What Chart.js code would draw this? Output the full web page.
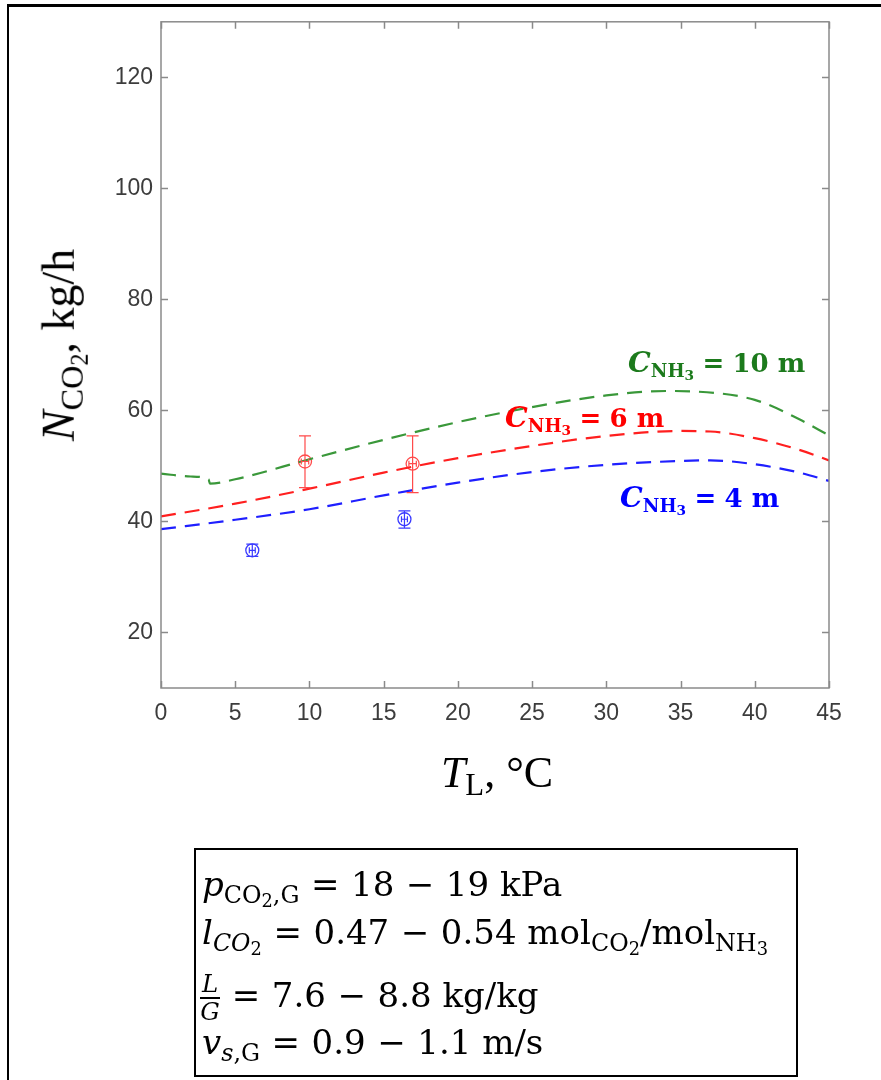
<!DOCTYPE html>
<html><head><meta charset="utf-8">
<script src="https://cdn.jsdelivr.net/npm/chart.js@4.4.1/dist/chart.umd.min.js"></script>
<style>
html,body{margin:0;padding:0;background:#fff;}
#wrap{position:relative;width:881px;height:1080px;overflow:hidden;background:#fff;}
#c{position:absolute;left:0;top:0;}
.t{position:absolute;font-family:"Liberation Serif","DejaVu Serif",serif;white-space:nowrap;line-height:1;color:#000;}
.d{font-family:"DejaVu Serif","Liberation Serif",serif;}
.s{font-size:0.7em;vertical-align:-0.28em;}
.s .s{font-size:0.75em;vertical-align:-0.22em;}
.op{margin:0 0.34em;}
.lab{font-weight:bold;}
.frac{display:inline-block;vertical-align:-0.55em;text-align:center;font-size:0.72em;font-style:italic;line-height:1.08;margin-right:0px;}
.frac .nu{display:block;border-bottom:2px solid #000;padding:0 2px;}
.frac .de{display:block;}
</style>
</head><body>
<div id="wrap">
<canvas id="c" width="881" height="1080"></canvas>

<!-- outer frame -->
<div style="position:absolute;left:7px;top:4px;width:874px;height:3px;background:#000;"></div>
<div style="position:absolute;left:7px;top:4px;width:2px;height:1076px;background:#000;"></div>

<!-- y axis title -->
<div class="t" id="ytitle" style="font-size:46px;left:64px;top:345px;transform:translate(-50%,-50%) rotate(-90deg);"><i>N</i><span class="s">CO<span class="s">2</span></span>, kg/h</div>
<!-- x axis title -->
<div class="t" id="xtitle" style="font-size:44px;left:497px;top:776px;transform:translate(-50%,-50%);"><i>T</i><span class="s">L</span>, °C</div>

<!-- curve labels -->
<div class="t d lab" style="font-size:26px;left:628px;top:348px;color:#1c7a1c;"><i style="font-size:1.1em">C</i><span class="s">NH<span class="s">3</span></span><span class="op" style="margin:0 0.32em">=</span>10 m</div>
<div class="t d lab" style="font-size:26px;left:505px;top:403px;color:#ff0000;"><i style="font-size:1.1em">C</i><span class="s">NH<span class="s">3</span></span><span class="op" style="margin:0 0.32em">=</span>6 m</div>
<div class="t d lab" style="font-size:26px;left:620px;top:483px;color:#0000ff;"><i style="font-size:1.1em">C</i><span class="s">NH<span class="s">3</span></span><span class="op" style="margin:0 0.32em">=</span>4 m</div>

<!-- info box -->
<div style="position:absolute;left:194px;top:848px;width:600px;height:225px;border:2px solid #000;"></div>
<div class="t d" style="font-size:34px;left:202px;top:867px;"><i>p</i><span class="s">CO<span class="s">2</span>,G</span><span class="op">=</span>18<span class="op">−</span>19 kPa</div>
<div class="t d" style="font-size:34px;left:202px;top:915px;"><i>l</i><span class="s"><i>CO</i><span class="s">2</span></span><span class="op">=</span>0.47<span class="op">−</span>0.54 mol<span class="s">CO<span class="s">2</span></span>/mol<span class="s">NH<span class="s">3</span></span></div>
<div class="t d" style="font-size:34px;left:200px;top:971px;"><span class="frac"><span class="nu">L</span><span class="de">G</span></span><span class="op">=</span>7.6<span class="op">−</span>8.8 kg/kg</div>
<div class="t d" style="font-size:34px;left:202px;top:1025px;"><i>v</i><span class="s"><i>s</i>,G</span><span class="op">=</span>0.9<span class="op">−</span>1.1 m/s</div>
</div>

<script>
// ---- data ----
const xTicks = [0, 5, 10, 15, 20, 25, 30, 35, 40, 45];
const yTicks = [20, 40, 60, 80, 100, 120];

// model curves: T_L (°C) vs N_CO2 (kg/h)
const model10mT = [0, 2, 3.2, 3.3, 5, 10, 15, 20, 25, 30, 34, 36, 40, 43, 45];
const model10mN = [48.6, 48.1, 47.6, 46.8, 47.6, 51.2, 54.7, 57.9, 60.6, 62.7, 63.5, 63.4, 61.9, 58.4, 55.5];
const model6mT  = [0, 5, 10, 15, 20, 25, 30, 35, 37, 40, 43, 45];
const model6mN  = [40.9, 43.2, 45.9, 48.8, 51.4, 53.6, 55.4, 56.3, 56.2, 55.0, 52.9, 51.0];
const model4mT  = [0, 5, 10, 15, 20, 25, 30, 35, 37, 40, 43, 45];
const model4mN  = [38.6, 40.3, 42.2, 44.7, 47.0, 48.9, 50.2, 50.9, 51.0, 50.3, 48.8, 47.3];

// experiments
const exp6mT   = [9.7, 16.95];
const exp6mN   = [50.8, 50.4];
const exp6mLo  = [46.1, 45.2];
const exp6mHi  = [55.4, 55.4];
const exp6mTErr = [0.25, 0.25];
const exp4mT   = [6.15, 16.4];
const exp4mN   = [34.8, 40.4];
const exp4mLo  = [33.7, 38.8];
const exp4mHi  = [35.9, 41.9];
const exp4mTErr = [0.2, 0.2];

const toPts = (xs, ys) => xs.map((x, i) => ({x: x, y: ys[i]}));

const boxPlugin = {
  id: 'boxTicks',
  afterDraw(chart) {
    const {ctx, chartArea: a, scales} = chart;
    ctx.save();
    ctx.strokeStyle = '#8a8a8a';
    ctx.lineWidth = 1.5;
    ctx.strokeRect(a.left, a.top, a.right - a.left, a.bottom - a.top);
    ctx.beginPath();
    const L = 7;
    scales.x.ticks.forEach(t => {
      const px = Math.round(scales.x.getPixelForValue(t.value)) + 0.5;
      ctx.moveTo(px, a.bottom); ctx.lineTo(px, a.bottom - L);
      ctx.moveTo(px, a.top); ctx.lineTo(px, a.top + L);
    });
    scales.y.ticks.forEach(t => {
      const py = Math.round(scales.y.getPixelForValue(t.value)) + 0.5;
      ctx.moveTo(a.left, py); ctx.lineTo(a.left + L, py);
      ctx.moveTo(a.right, py); ctx.lineTo(a.right - L, py);
    });
    ctx.stroke();
    ctx.restore();
  }
};

const errPlugin = {
  id: 'errBars',
  afterDatasetsDraw(chart) {
    const {ctx, scales: {x: xs, y: ys}} = chart;
    function draw(T, N, lo, hi, terr, color) {
      ctx.save();
      ctx.strokeStyle = color;
      ctx.lineWidth = 1.2;
      ctx.beginPath();
      T.forEach((t, i) => {
        const px = xs.getPixelForValue(t);
        const py = ys.getPixelForValue(N[i]);
        const pl = ys.getPixelForValue(lo[i]);
        const ph = ys.getPixelForValue(hi[i]);
        const cw = 6;
        ctx.moveTo(px, pl); ctx.lineTo(px, ph);
        ctx.moveTo(px - cw, pl); ctx.lineTo(px + cw, pl);
        ctx.moveTo(px - cw, ph); ctx.lineTo(px + cw, ph);
        const xl = xs.getPixelForValue(t - terr[i]);
        const xr = xs.getPixelForValue(t + terr[i]);
        ctx.moveTo(xl, py); ctx.lineTo(xr, py);
        ctx.moveTo(xl, py - 3); ctx.lineTo(xl, py + 3);
        ctx.moveTo(xr, py - 3); ctx.lineTo(xr, py + 3);
      });
      ctx.stroke();
      ctx.restore();
    }
    draw(exp6mT, exp6mN, exp6mLo, exp6mHi, exp6mTErr, '#ff4a4a');
    draw(exp4mT, exp4mN, exp4mLo, exp4mHi, exp4mTErr, '#3a3aff');
  }
};

const dash = [15, 9];
new Chart(document.getElementById('c'), {
  type: 'scatter',
  data: {
    datasets: [
      {data: toPts(model10mT, model10mN), showLine: true, borderColor: '#3a983a', borderWidth: 2.2, borderDash: dash, pointRadius: 0, cubicInterpolationMode: 'monotone', fill: false},
      {data: toPts(model6mT, model6mN), showLine: true, borderColor: '#ff1f1f', borderWidth: 2.2, borderDash: dash, pointRadius: 0, cubicInterpolationMode: 'monotone', fill: false},
      {data: toPts(model4mT, model4mN), showLine: true, borderColor: '#1f1fff', borderWidth: 2.2, borderDash: dash, pointRadius: 0, cubicInterpolationMode: 'monotone', fill: false},
      {data: toPts(exp6mT, exp6mN), showLine: false, pointStyle: 'circle', pointRadius: 6.5, borderColor: '#ff4a4a', backgroundColor: 'rgba(0,0,0,0)', borderWidth: 1.3},
      {data: toPts(exp4mT, exp4mN), showLine: false, pointStyle: 'circle', pointRadius: 6.5, borderColor: '#3a3aff', backgroundColor: 'rgba(0,0,0,0)', borderWidth: 1.3}
    ]
  },
  options: {
    responsive: false,
    animation: false,
    devicePixelRatio: 1,
    layout: {padding: {left: 0, top: 20, right: 52, bottom: 0}},
    plugins: {legend: {display: false}, tooltip: {enabled: false}},
    scales: {
      x: {
        type: 'linear', min: 0, max: 45,
        grid: {display: false, drawTicks: false}, border: {display: false},
        ticks: {color: '#3c3c3c', font: {family: 'Liberation Sans, Arial, sans-serif', size: 23}, padding: 12},
        afterBuildTicks: s => { s.ticks = xTicks.map(v => ({value: v})); },
        afterFit: s => { s.height = 392; }
      },
      y: {
        type: 'linear', min: 10, max: 130,
        grid: {display: false, drawTicks: false}, border: {display: false},
        ticks: {color: '#3c3c3c', font: {family: 'Liberation Sans, Arial, sans-serif', size: 23}, padding: 8},
        afterBuildTicks: s => { s.ticks = yTicks.map(v => ({value: v})); },
        afterFit: s => { s.width = 161; }
      }
    }
  },
  plugins: [boxPlugin, errPlugin]
});
</script>
</body></html>
